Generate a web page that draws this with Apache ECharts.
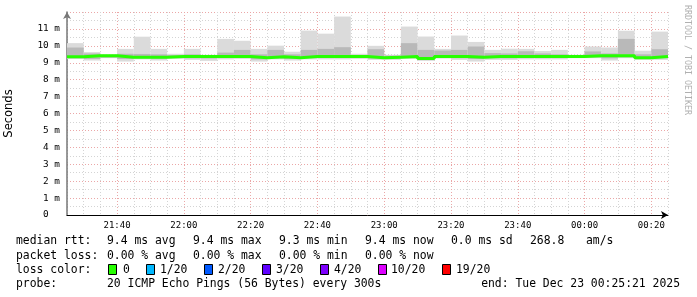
<!DOCTYPE html>
<html><head><meta charset="utf-8">
<script src="https://cdn.jsdelivr.net/npm/echarts@6/dist/echarts.min.js"></script>
<style>html,body{margin:0;padding:0;background:#fff}#c{width:697px;height:297px}</style>
</head><body><div id="c"></div>
<script>
// column start times (5-minute RRD steps)
const colStart = ['21:25','21:30','21:35','21:40','21:45','21:50','21:55','22:00','22:05','22:10','22:15','22:20',
  '22:25','22:30','22:35','22:40','22:45','22:50','22:55','23:00','23:05','23:10','23:15','23:20',
  '23:25','23:30','23:35','23:40','23:45','23:50','23:55','00:00','00:05','00:10','00:15','00:20'];
const endTime = '00:25';
// smoke (ms)
const smokeMax = [10.16,9.63,9.50,9.82,10.54,9.82,9.53,9.82,9.47,10.41,10.30,9.82,10.01,9.65,10.90,10.72,11.73,9.53,
  10.00,9.47,11.14,10.55,9.82,10.61,10.23,9.76,9.83,9.82,9.69,9.76,9.47,9.96,9.90,10.89,9.71,10.84];
const smokeUpper = [9.90,9.55,9.45,9.53,9.52,9.50,9.45,9.50,9.42,9.60,9.76,9.50,9.76,9.50,9.76,9.82,9.92,9.45,
  9.80,9.42,10.16,9.76,9.72,9.76,9.96,9.57,9.55,9.68,9.55,9.50,9.42,9.67,9.55,10.41,9.50,9.80];
const smokeLower = [9.27,9.22,9.30,9.22,9.26,9.24,9.28,9.26,9.25,9.28,9.28,9.20,9.26,9.22,9.28,9.28,9.28,9.28,
  9.24,9.25,9.28,9.20,9.30,9.27,9.22,9.27,9.26,9.28,9.28,9.28,9.30,9.32,9.26,9.32,9.24,9.27];
const smokeMin = [9.22,9.13,9.27,9.07,9.20,9.13,9.23,9.17,9.11,9.20,9.23,9.07,9.20,9.13,9.20,9.20,9.20,9.23,
  9.17,9.17,9.23,9.11,9.25,9.17,9.07,9.17,9.17,9.20,9.20,9.20,9.27,9.27,9.13,9.27,9.17,9.17];
const medianRtt = [9.35,9.41,9.41,9.33,9.33,9.33,9.37,9.37,9.37,9.37,9.37,9.29,9.35,9.29,9.37,9.37,9.37,9.37,
  9.29,9.33,9.37,9.25,9.37,9.37,9.33,9.37,9.37,9.37,9.37,9.37,9.37,9.41,9.41,9.41,9.29,9.37];
const xTickLabels = ['21:40','22:00','22:20','22:40','23:00','23:20','23:40','00:00','00:20'];
const yTickLabels = ['0  ','1 m','2 m','3 m','4 m','5 m','6 m','7 m','8 m','9 m','10 m','11 m'];
const statRows = [
  {y:241, parts:[[16,'median rtt:'],[107,'9.4 ms avg'],[193,'9.4 ms max'],[279,'9.3 ms min'],[365,'9.4 ms now'],[451,'0.0 ms sd'],[530,'268.8'],[586,'am/s']]},
  {y:256, parts:[[16,'packet loss:'],[107,'0.00 % avg'],[193,'0.00 % max'],[279,'0.00 % min'],[365,'0.00 % now']]},
  {y:270, parts:[[16,'loss color:']]},
  {y:284, parts:[[16,'probe:'],[107,'20 ICMP Echo Pings (56 Bytes) every 300s']]}
];
const lossNames = ['0','1/20','2/20','3/20','4/20','10/20','19/20'];
const lossColors = ['#26ff00','#00b8ff','#0059ff','#5e00ff','#7e00ff','#dd00ff','#ff0000'];
const lossX = [108,146,204,262,320,378,442];
const lossTextX = [123,160,218,276,334,391,456];
const endText = 'end: Tue Dec 23 00:25:21 2025';

const ORIGIN = 21*60+25;
function toMin(s){ const [h,m]=s.split(':').map(Number); let t=h*60+m; if(h<12) t+=1440; return t-ORIGIN; }
function toClock(v){ const t=(ORIGIN+v)%1440; const h=Math.floor(t/60), m=t%60; return String(h).padStart(2,'0')+':'+String(m).padStart(2,'0'); }

const starts = colStart.map(toMin);
const ends = starts.slice(1).concat([toMin(endTime)]);
const smokeData = starts.map((s,i)=>[s, ends[i], smokeMin[i], smokeLower[i], smokeUpper[i], smokeMax[i]]);
const medData = starts.map((s,i)=>[s, medianRtt[i]]).concat([[ends[ends.length-1], medianRtt[medianRtt.length-1]]]);

const mono = 'DejaVu Sans Mono';
const FONT = '11.4px "'+mono+'"';
const graphics = [];
statRows.forEach(r=>r.parts.forEach(p=>graphics.push({type:'text', x:p[0], y:r.y,
  style:{text:p[1], font:FONT, fill:'#000', verticalAlign:'middle'}})));
lossNames.forEach((n,i)=>{
  graphics.push({type:'rect', shape:{x:lossX[i]+0.5, y:264.5, width:8, height:10}, style:{fill:lossColors[i], stroke:'#000', lineWidth:1}});
  graphics.push({type:'text', x:lossTextX[i], y:270, style:{text:n, font:FONT, fill:'#000', verticalAlign:'middle'}});
});
graphics.push({type:'text', x:680, y:284, style:{text:endText, font:FONT, fill:'#000', align:'right', verticalAlign:'middle'}});
graphics.push({type:'text', x:687, y:5, rotation:-Math.PI/2, style:{text:'RRDTOOL / TOBI OETIKER', font:'8.3px "'+mono+'"', fill:'#b0b0b0', verticalAlign:'middle'}});

const chart = echarts.init(document.getElementById('c'), null, {renderer:'canvas'});
chart.setOption({
  animation:false,
  backgroundColor:'#ffffff',
  grid:{left:67, right:29, top:12, bottom:82, containLabel:false, outerBoundsMode:'none'},
  xAxis:{type:'value', min:0, max:180, interval:5,
    axisLine:{show:true, lineStyle:{color:'#000', width:1}, symbol:['none','arrow'], symbolSize:[6,7]},
    axisTick:{show:false},
    axisLabel:{formatter:v=>{const c=toClock(v); return xTickLabels.includes(c)?c:'';}, color:'#000', fontFamily:mono, fontSize:9, margin:6, hideOverlap:false},
    splitLine:{show:true, lineStyle:{color:['#d4d4d4','#d4d4d4','#d4d4d4','#eba7a7'], type:[1,2], width:1}}
  },
  yAxis:{type:'value', min:0, max:12, interval:1,
    name:'Seconds', nameLocation:'middle', nameGap:52,
    nameTextStyle:{fontFamily:'DejaVu Sans', fontSize:11.5, color:'#000'},
    axisLine:{show:true, lineStyle:{color:'#777', width:1.5}, symbol:['none','arrow'], symbolSize:[6,7]},
    axisTick:{show:false},
    axisLabel:{formatter:v=>yTickLabels[v]!==undefined?yTickLabels[v]:'', color:'#000', fontFamily:mono, fontSize:9.4, margin:7},
    splitLine:{show:true, lineStyle:{color:'#eba7a7', type:[1,2], width:1}},
    minorTick:{show:false, splitNumber:2},
    minorSplitLine:{show:true, lineStyle:{color:'#d4d4d4', type:[1,2], width:1}}
  },
  series:[
    {type:'custom', clip:true, z:2, data:smokeData,
      renderItem:(params, api)=>{
        const x0=api.value(0), x1=api.value(1);
        const a=api.coord([x0, api.value(2)]), b=api.coord([x1, api.value(5)]);
        const c=api.coord([x0, api.value(3)]), d=api.coord([x1, api.value(4)]);
        return {type:'group', children:[
          {type:'rect', shape:{x:a[0], y:b[1], width:b[0]-a[0], height:a[1]-b[1]}, style:{fill:'#dbdbdb'}},
          {type:'rect', shape:{x:c[0], y:d[1], width:d[0]-c[0], height:c[1]-d[1]}, style:{fill:'#b9b9b9'}}
        ]};
      }},
    {type:'line', step:'end', z:3, data:medData, symbol:'none', lineStyle:{color:'#26ff00', width:3}}
  ],
  graphic:graphics
});
</script></body></html>
